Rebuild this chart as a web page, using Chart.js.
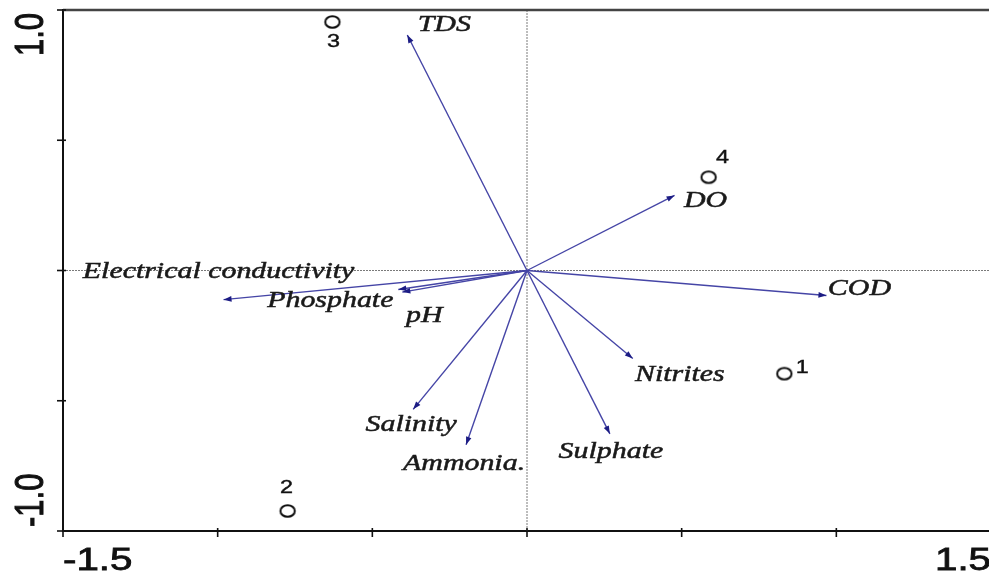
<!DOCTYPE html>
<html>
<head>
<meta charset="utf-8">
<script src="https://cdn.jsdelivr.net/npm/chart.js@4.4.1/dist/chart.umd.min.js"></script>
<style>
  html, body { margin: 0; padding: 0; overflow: hidden; background: #fff; }
  #wrap { width: 1000px; height: 576px; }
</style>
</head>
<body>
<div id="wrap"><canvas id="biplot"></canvas></div>
<script>
// Sites (sample scores)
const siteLabels = ["1", "2", "3", "4"];
const siteX = [0.832, -0.774, -0.629, 0.587];
const siteY = [-0.396, -0.923, 0.954, 0.358];

// Environmental variables (arrow tips)
const varLabels = ["TDS", "DO", "COD", "Nitrites", "Sulphate", "Ammonia.", "Salinity",
  "Electrical conductivity", "Phosphate", "pH"];
const varX = [-0.387, 0.477, 0.968, 0.342, 0.268, -0.197, -0.368, -0.981, -0.416, -0.403];
const varY = [0.904, 0.288, -0.096, -0.338, -0.627, -0.669, -0.533, -0.112, -0.073, -0.083];

// Axis ranges and tick labels
const xRange = [-1.5, 1.5];
const yRange = [-1.0, 1.0];
const xTickLabels = ["-1.5", "1.5"];
const yTickLabels = ["-1.0", "1.0"];
const tickStep = 0.5;

// label placement relative to the marker, in pixels
const varLabelOffsets = [[37, -10], [31, 5], [33, -7], [47, 16], [1, 18], [-2, 19], [-2, 16],
  [-5, -28], [-68, 11], [22, 24]];
const siteLabelOffsets = [[18, -6], [-1, -23], [1, 20], [14, -19]];

const STRETCH = 1.3; // the original picture is stretched horizontally

// hollow elliptic marker
function makeMarker() {
  const c = document.createElement("canvas");
  c.width = 20; c.height = 16;
  const g = c.getContext("2d");
  g.strokeStyle = "#111";
  g.lineWidth = 2;
  g.beginPath();
  g.ellipse(10, 8, 7.2, 5.8, 0, 0, Math.PI * 2);
  g.stroke();
  return c;
}

function stretchedText(ctx, text, x, y, font, align, baseline, rot, weight) {
  ctx.save();
  ctx.translate(x, y);
  ctx.scale(STRETCH, 1);
  if (rot) ctx.rotate(rot);
  ctx.font = font;
  ctx.textAlign = align;
  ctx.textBaseline = baseline;
  ctx.fillText(text, 0, 0);
  if (weight) {
    ctx.strokeStyle = ctx.fillStyle;
    ctx.lineWidth = weight;
    ctx.strokeText(text, 0, 0);
  }
  ctx.restore();
}

const arrowDatasets = varLabels.map((name, i) => ({
  type: "line",
  label: name,
  data: [{ x: 0, y: 0 }, { x: varX[i], y: varY[i] }],
  borderColor: "#4545a6",
  borderWidth: 1.4,
  pointRadius: 0,
  order: 2,
  clip: false
}));

const biplotPlugin = {
  id: "biplotExtras",
  afterDatasetsDraw(chart) {
    const ctx = chart.ctx;
    const xs = chart.scales.x, ys = chart.scales.y;
    const area = chart.chartArea;
    const ox = xs.getPixelForValue(0), oy = ys.getPixelForValue(0);

    // arrow heads
    ctx.fillStyle = "#1c1c84";
    varX.forEach((vx, i) => {
      const px = xs.getPixelForValue(vx), py = ys.getPixelForValue(varY[i]);
      const a = Math.atan2(py - oy, px - ox);
      ctx.save();
      ctx.translate(px, py);
      ctx.rotate(a);
      ctx.beginPath();
      ctx.moveTo(0, 0);
      ctx.lineTo(-8, -2.8);
      ctx.lineTo(-8, 2.8);
      ctx.closePath();
      ctx.fill();
      ctx.restore();
    });

    // variable names
    ctx.fillStyle = "#1a1a1a";
    varLabels.forEach((name, i) => {
      const px = xs.getPixelForValue(varX[i]) + varLabelOffsets[i][0];
      const py = ys.getPixelForValue(varY[i]) + varLabelOffsets[i][1];
      stretchedText(ctx, name, px, py, "italic 23px 'Liberation Serif', 'Times New Roman', serif", "center", "middle", 0, 0.5);
    });

    // site numbers
    ctx.fillStyle = "#111";
    siteLabels.forEach((s, i) => {
      const px = xs.getPixelForValue(siteX[i]) + siteLabelOffsets[i][0];
      const py = ys.getPixelForValue(siteY[i]) + siteLabelOffsets[i][1];
      stretchedText(ctx, s, px, py, "18px 'Liberation Sans', Arial, sans-serif", "center", "middle", 0, 0.4);
    });

    // top frame line
    ctx.strokeStyle = "#444";
    ctx.lineWidth = 2.5;
    ctx.beginPath();
    ctx.moveTo(area.left, area.top);
    ctx.lineTo(area.right, area.top);
    ctx.stroke();

    // crossing tick marks
    ctx.strokeStyle = "#111";
    ctx.lineWidth = 1.6;
    for (let v = xRange[0]; v <= xRange[1] + 1e-9; v += tickStep) {
      const px = xs.getPixelForValue(v);
      ctx.beginPath();
      ctx.moveTo(px, area.bottom - 3);
      ctx.lineTo(px, area.bottom + 6);
      ctx.stroke();
    }
    for (let v = yRange[0]; v <= yRange[1] + 1e-9; v += tickStep) {
      const py = ys.getPixelForValue(v);
      ctx.beginPath();
      ctx.moveTo(area.left - 6, py);
      ctx.lineTo(area.left + 3, py);
      ctx.stroke();
    }

    // tick labels
    ctx.fillStyle = "#111";
    const tickFont = "31px 'Liberation Sans', Arial, sans-serif";
    const lbY = area.bottom + 39;
    stretchedText(ctx, xTickLabels[0], xs.getPixelForValue(xRange[0]), lbY, tickFont, "left", "alphabetic", 0, 0.8);
    stretchedText(ctx, xTickLabels[1], xs.getPixelForValue(xRange[1]), lbY, tickFont, "right", "alphabetic", 0, 0.8);
    stretchedText(ctx, yTickLabels[0], 43, ys.getPixelForValue(yRange[0]) - 4, tickFont, "left", "alphabetic", -Math.PI / 2, 0.8);
    stretchedText(ctx, yTickLabels[1], 43, ys.getPixelForValue(yRange[1]) + 3, tickFont, "right", "alphabetic", -Math.PI / 2, 0.8);
  }
};

new Chart(document.getElementById("biplot"), {
  type: "scatter",
  data: {
    datasets: [
      {
        type: "line",
        data: [{ x: xRange[0], y: 0 }, { x: xRange[1], y: 0 }],
        borderColor: "#7a7a7a",
        borderWidth: 1,
        borderDash: [2, 1],
        pointRadius: 0,
        order: 3
      },
      {
        type: "line",
        data: [{ x: 0, y: yRange[0] }, { x: 0, y: yRange[1] }],
        borderColor: "#7a7a7a",
        borderWidth: 1,
        borderDash: [2, 1],
        pointRadius: 0,
        order: 3
      },
      ...arrowDatasets,
      {
        label: "Sites",
        data: siteX.map((x, i) => ({ x: x, y: siteY[i] })),
        pointStyle: makeMarker(),
        pointRadius: 8,
        order: 1,
        clip: false
      }
    ]
  },
  options: {
    responsive: true,
    maintainAspectRatio: false,
    animation: false,
    layout: { padding: { top: 10, right: 8, left: 0, bottom: 0 } },
    plugins: { legend: { display: false }, tooltip: { enabled: false } },
    scales: {
      x: {
        type: "linear",
        min: xRange[0], max: xRange[1],
        grid: { display: false },
        ticks: { display: false },
        border: { color: "#111", width: 2 },
        afterFit: s => { s.height = 45; }
      },
      y: {
        type: "linear",
        min: yRange[0], max: yRange[1],
        grid: { display: false },
        ticks: { display: false },
        border: { color: "#111", width: 2 },
        afterFit: s => { s.width = 63; }
      }
    }
  },
  plugins: [biplotPlugin]
});
</script>
</body>
</html>
